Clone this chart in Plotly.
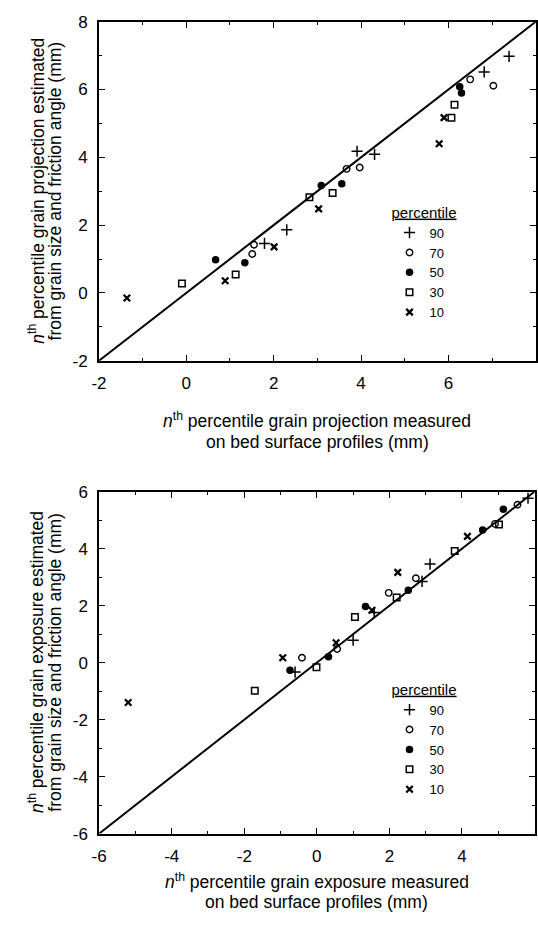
import plotly.graph_objects as go

# ---------------- data ----------------
percentiles = ["90", "70", "50", "30", "10"]

# Top panel: grain projection (measured x, estimated y)
proj_x = {
    "90": [7.39, 6.82, 3.91, 4.31, 2.30, 1.79],
    "70": [6.50, 7.03, 3.67, 3.97, 1.55, 1.51],
    "50": [6.26, 6.30, 3.09, 3.56, 0.67, 1.34],
    "30": [6.14, 6.07, 2.82, 3.35, 1.13, -0.10],
    "10": [5.90, 5.79, 3.03, 2.01, 0.89, -1.36],
}
proj_y = {
    "90": [6.98, 6.52, 4.18, 4.09, 1.86, 1.46],
    "70": [6.30, 6.11, 3.66, 3.70, 1.42, 1.15],
    "50": [6.08, 5.90, 3.17, 3.22, 0.98, 0.89],
    "30": [5.55, 5.17, 2.82, 2.95, 0.54, 0.28],
    "10": [5.17, 4.40, 2.48, 1.36, 0.36, -0.15],
}

# Bottom panel: grain exposure (measured x, estimated y)
expo_x = {
    "90": [5.82, 3.12, 2.90, 1.58, 1.00, -0.60],
    "70": [5.53, 4.91, 2.73, 1.98, 0.56, -0.41],
    "50": [5.14, 4.57, 2.52, 1.34, 0.32, -0.74],
    "30": [5.02, 3.80, 2.20, 1.05, -0.01, -1.71],
    "10": [4.15, 2.23, 1.52, 0.53, -0.94, -5.20],
}
expo_y = {
    "90": [5.77, 3.46, 2.85, 1.76, 0.79, -0.33],
    "70": [5.54, 4.87, 2.96, 2.45, 0.48, 0.17],
    "50": [5.38, 4.66, 2.54, 1.97, 0.21, -0.27],
    "30": [4.85, 3.92, 2.29, 1.60, -0.16, -0.99],
    "10": [4.43, 3.17, 1.84, 0.70, 0.17, -1.40],
}

proj_range = [-2, 8]
expo_range = [-6, 6]
proj_ticks = [-2, 0, 2, 4, 6, 8]
expo_ticks = [-6, -4, -2, 0, 2, 4, 6]

# ---------------- styling ----------------
FONT = "Liberation Sans, Arial, Helvetica, sans-serif"
marker_style = {
    "90": dict(symbol="cross-thin-open", size=8, line=dict(width=1.5, color="black")),
    "70": dict(symbol="circle-open", size=6.5, line=dict(width=1.4, color="black")),
    "50": dict(symbol="circle", size=7.5, line=dict(width=0, color="black")),
    "30": dict(symbol="square-open", size=6.5, line=dict(width=1.5, color="black")),
    "10": dict(symbol="x-thin-open", size=6.5, line=dict(width=2.3, color="black")),
}

fig = go.Figure()

# 1:1 lines
fig.add_trace(go.Scatter(x=proj_range, y=proj_range, mode="lines",
                         line=dict(color="black", width=2), showlegend=False,
                         xaxis="x", yaxis="y", hoverinfo="skip"))
fig.add_trace(go.Scatter(x=expo_range, y=expo_range, mode="lines",
                         line=dict(color="black", width=2), showlegend=False,
                         xaxis="x2", yaxis="y2", hoverinfo="skip"))

for p in percentiles:
    fig.add_trace(go.Scatter(x=proj_x[p], y=proj_y[p], mode="markers", name=p,
                             marker=dict(color="black", **marker_style[p]),
                             xaxis="x", yaxis="y", legend="legend"))
for p in percentiles:
    fig.add_trace(go.Scatter(x=expo_x[p], y=expo_y[p], mode="markers", name=p,
                             marker=dict(color="black", **marker_style[p]),
                             xaxis="x2", yaxis="y2", legend="legend2"))

W, H = 538, 936
top_dom_x = [92.5 / W, 536.7 / W]
top_dom_y = [1 - 359 / H, 1 - 13 / H]
bot_dom_x = [92.7 / W, 535.5 / W]
bot_dom_y = [1 - 841.7 / H, 1 - 492.7 / H]

def axis(rng, ticks, dom, anchor):
    return dict(
        range=rng, domain=dom, anchor=anchor,
        tickmode="array", tickvals=ticks, ticktext=[str(t) for t in ticks],
        ticks="inside", ticklen=6, tickwidth=1.2, tickcolor="black",
        minor=dict(dtick=1, ticks="inside", ticklen=3, tickwidth=1.2, tickcolor="black"),
        showline=True, linewidth=1.8, linecolor="black", mirror="ticks",
        showgrid=False, zeroline=False,
        tickfont=dict(family=FONT, size=17, color="black"),
        ticklabelstandoff=6,
    )

legend_common = dict(
    font=dict(family=FONT, size=13, color="black"),
    bgcolor="rgba(0,0,0,0)", borderwidth=0,
    traceorder="normal", tracegroupgap=0, itemsizing="trace",
    xanchor="left", yanchor="top",
)

fig.update_layout(
    width=W, height=H,
    margin=dict(l=0, r=0, t=0, b=0),
    paper_bgcolor="white", plot_bgcolor="white",
    font=dict(family=FONT, size=17, color="black"),
    xaxis=axis(proj_range, proj_ticks, top_dom_x, "y"),
    yaxis=axis(proj_range, proj_ticks, top_dom_y, "x"),
    xaxis2=axis(expo_range, expo_ticks, bot_dom_x, "y2"),
    yaxis2=axis(expo_range, expo_ticks, bot_dom_y, "x2"),
    legend=dict(x=388 / W, y=1 - 193 / H,
                title=dict(text="<u>percentile</u>", side="top",
                           font=dict(family=FONT, size=15, color="black")),
                **legend_common),
    legend2=dict(x=388 / W, y=1 - 680 / H,
                 title=dict(text="<u>percentile</u>", side="top",
                            font=dict(family=FONT, size=15, color="black")),
                 **legend_common),
    showlegend=True,
)

title_font = dict(family=FONT, size=17.5, color="black")

def label(text, x, y, angle=0):
    fig.add_annotation(text=text, xref="paper", yref="paper", x=x / W, y=1 - y / H,
                       xanchor="center", yanchor="middle", showarrow=False,
                       textangle=angle, font=title_font)

top_cx = (92.5 + 536.7) / 2
bot_cx = (92.7 + 535.5) / 2
label("<i>n</i><sup>th</sup> percentile grain projection measured", top_cx, 420)
label("on bed surface profiles (mm)", top_cx, 442)
label("<i>n</i><sup>th</sup> percentile grain exposure measured", bot_cx, 890)
label("on bed surface profiles (mm)", bot_cx, 911)
label("<i>n</i><sup>th</sup> percentile grain projection estimated", 29, 186, -90)
label("from grain size and friction angle (mm)", 48, 186, -90)
label("<i>n</i><sup>th</sup> percentile grain exposure estimated", 29, 667, -90)
label("from grain size and friction angle (mm)", 48, 667, -90)

fig.write_html("out.html")
